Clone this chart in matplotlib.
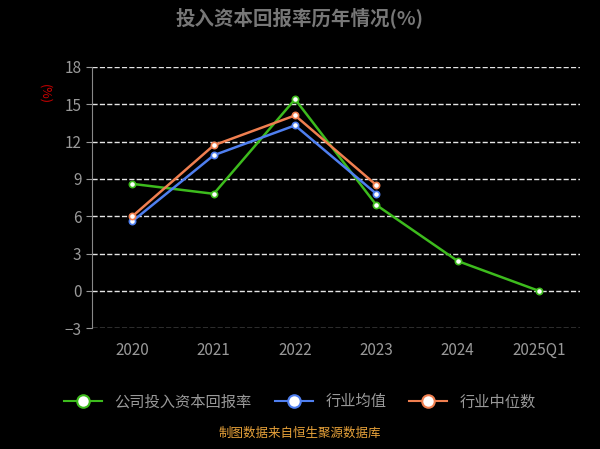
import matplotlib.pyplot as plt
from matplotlib.lines import Line2D

plt.rcParams['font.family'] = ['Noto Sans CJK SC', 'DejaVu Sans']

years = ['2020', '2021', '2022', '2023', '2024', '2025Q1']
company = [8.6, 7.8, 15.4, 6.9, 2.4, 0.0]
ind_mean = [5.6, 10.9, 13.3, 7.8]
ind_median = [6.0, 11.7, 14.1, 8.5]
yticks = [-3, 0, 3, 6, 9, 12, 15, 18]

fig = plt.figure(figsize=(6, 4.49), dpi=100, facecolor='black')
ax = fig.add_axes([0.153, 0.269, 0.813, 0.582], facecolor='black')

series = [(company, '#3dbb1d', '公司投入资本回报率'),
          (ind_mean, '#4f7ff0', '行业均值'),
          (ind_median, '#f07f50', '行业中位数')]
for vals, c, lab in series:
    ax.plot(range(len(vals)), vals, color=c, lw=1.8, marker='o', ms=4.5,
            mfc='white', mec=c, mew=1.2, label=lab)

ax.set_xlim(-0.5, 5.5)
ax.set_ylim(-3, 18)
ax.set_yticks(yticks)
ax.set_xticks(range(len(years)))
ax.set_xticklabels(years)
ax.grid(axis='y', color='white', ls='--', lw=1, alpha=0.9)
for s in ['top', 'right', 'bottom']:
    ax.spines[s].set_visible(False)
ax.spines['left'].set_color('#888888')
ax.tick_params(axis='y', colors='#999999', labelsize=11, length=4)
ax.tick_params(axis='x', colors='#999999', labelsize=11, length=0, pad=10)

fig.text(0.5, 0.96, '投入资本回报率历年情况(%)', ha='center', va='center',
         color='#777777', fontsize=14, fontweight='bold')
fig.text(0.075, 0.79, '(%)', rotation=270, color='#cc0000', fontsize=9,
         ha='center', va='center')
fig.text(0.5, 0.02, '制图数据来自恒生聚源数据库', ha='center', va='bottom',
         color='#e8a23a', fontsize=9)

handles = [Line2D([0], [0], color=c, lw=1.5, marker='o', ms=9, mfc='white',
                  mec=c, mew=1.5) for _, c, _ in series]
fig.legend(handles, [l for _, _, l in series], loc='center', ncol=3,
           bbox_to_anchor=(0.5, 0.105), frameon=False, labelcolor='#999999',
           fontsize=11, handlelength=2.5, columnspacing=1.5)

fig.savefig('out.png', facecolor='black')
